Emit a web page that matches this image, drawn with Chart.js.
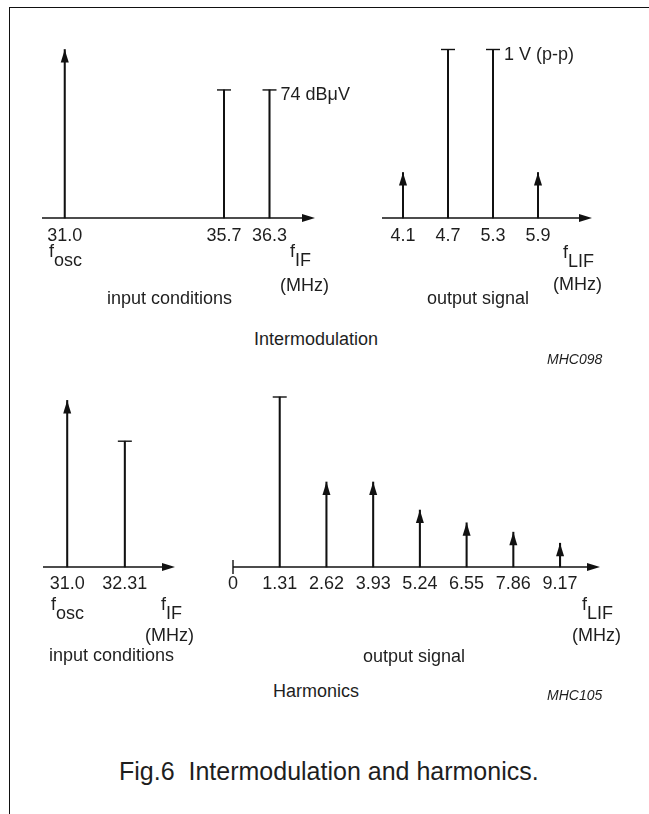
<!DOCTYPE html>
<html>
<head>
<meta charset="utf-8">
<script src="https://cdn.jsdelivr.net/npm/chart.js@4.4.0/dist/chart.umd.min.js"></script>
<style>
  html, body { margin: 0; padding: 0; background: #fff; }
  #page { position: relative; width: 649px; height: 814px; overflow: hidden;
          font-family: "Liberation Sans", Arial, Helvetica, sans-serif; color: #1e1e1e; }
  #frame { position: absolute; left: 9px; top: 7px; width: 700px; height: 900px;
           border-top: 1.5px solid #111; border-left: 1.5px solid #111; }
  canvas { position: absolute; }
  .t { position: absolute; font-size: 18px; line-height: 18px; white-space: pre; }
  .t sub { font-size: 18px; line-height: 0; vertical-align: -9px; }
  .code { font-size: 14px; line-height: 14px; font-style: italic; }
  .fig { font-size: 25px; line-height: 25px; }
</style>
</head>
<body>
<div id="page">
  <div id="frame"></div>
  <canvas id="imIn" width="340" height="230" style="left:20px;top:30px"></canvas>
  <canvas id="imOut" width="280" height="230" style="left:360px;top:30px"></canvas>
  <canvas id="hIn" width="175" height="229" style="left:20px;top:380px"></canvas>
  <canvas id="hOut" width="430" height="229" style="left:210px;top:380px"></canvas>

  <div class="t" data-b="257" style="left:49px">f<sub>osc</sub></div>
  <div class="t" data-b="257" style="left:290px">f<sub>IF</sub></div>
  <div class="t" data-b="291" style="left:280px">(MHz)</div>
  <div class="t" data-b="304" style="left:107px">input conditions</div>
  <div class="t" data-b="258" style="left:563px">f<sub>LIF</sub></div>
  <div class="t" data-b="290" style="left:553px">(MHz)</div>
  <div class="t" data-b="304" style="left:427px">output signal</div>
  <div class="t" data-b="345" style="left:254px">Intermodulation</div>
  <div class="t code" data-b="364" style="left:547px">MHC098</div>

  <div class="t" data-b="610" style="left:51px">f<sub>osc</sub></div>
  <div class="t" data-b="610" style="left:161px">f<sub>IF</sub></div>
  <div class="t" data-b="641" style="left:145px">(MHz)</div>
  <div class="t" data-b="661" style="left:49px">input conditions</div>
  <div class="t" data-b="610" style="left:582px">f<sub>LIF</sub></div>
  <div class="t" data-b="641" style="left:572px">(MHz)</div>
  <div class="t" data-b="662" style="left:363px">output signal</div>
  <div class="t" data-b="697" style="left:273px">Harmonics</div>
  <div class="t code" data-b="700" style="left:547px">MHC105</div>

  <div class="t fig" data-b="780" style="left:119px">Fig.6  Intermodulation and harmonics.</div>
</div>

<script>
// ---- Intermodulation, input conditions (broken axis, blank ticks are the gap)
const imInAxis = ['', '31.0', '', '', '', '', '', '', '35.7', '', '36.3', '', ''];
const imInOsc = ['31.0'];
const imInOscLevel = [1.0];
const imInSig = ['35.7', '36.3'];
const imInSigLevel = [0.76, 0.76];

// ---- Intermodulation, output signal (MHz)
const imOutTicks = ['4.1', '4.7', '5.3', '5.9'];
const imOutFreq = [4.1, 4.7, 5.3, 5.9];
const imOutProd = [4.1, 5.9];
const imOutProdLevel = [0.27, 0.27];
const imOutSig = [4.7, 5.3];
const imOutSigLevel = [1.0, 1.0];

// ---- Harmonics, input conditions (MHz)
const hInTicks = ['31.0', '32.31'];
const hInFreq = [31.0, 32.31];
const hInOsc = [31.0];
const hInOscLevel = [0.98];
const hInSig = [32.31];
const hInSigLevel = [0.74];

// ---- Harmonics, output signal (MHz)
const hOutTicks = ['0', '1.31', '2.62', '3.93', '5.24', '6.55', '7.86', '9.17'];
const hOutFreq = [0, 1.31, 2.62, 3.93, 5.24, 6.55, 7.86, 9.17];
const hOutSig = [1.31];
const hOutSigLevel = [1.0];
const hOutHarm = [2.62, 3.93, 5.24, 6.55, 7.86, 9.17];
const hOutHarmLevel = [0.5, 0.5, 0.335, 0.26, 0.205, 0.14];

const INK = '#111';
const FONT = '"Liberation Sans", Arial, Helvetica, sans-serif';

// place html labels by their baseline
document.querySelectorAll('.t').forEach(el => {
  const fs = parseFloat(getComputedStyle(el).fontSize);
  el.style.top = (parseFloat(el.dataset.b) - 0.8465 * fs) + 'px';
});

const pts = (xs, ys) => xs.map((x, i) => ({ x: x, y: ys[i] }));

// axis arrow, arrow heads, level caps and notes
const spectrumPlugin = {
  id: 'spectrum',
  beforeDatasetsDraw(chart) {
    const { ctx, chartArea: a } = chart;
    const y0 = chart.scales.y.getPixelForValue(0);
    ctx.save();
    ctx.strokeStyle = INK;
    ctx.fillStyle = INK;
    ctx.lineWidth = 1.4;
    ctx.beginPath();
    ctx.moveTo(a.left, y0);
    ctx.lineTo(a.right - 10, y0);
    ctx.stroke();
    ctx.beginPath();
    ctx.moveTo(a.right, y0);
    ctx.lineTo(a.right - 13, y0 - 4);
    ctx.lineTo(a.right - 13, y0 + 4);
    ctx.closePath();
    ctx.fill();
    if (chart.options.plugins.spectrum.startTick) {
      ctx.beginPath();
      ctx.moveTo(a.left, y0 - 7);
      ctx.lineTo(a.left, y0 + 7);
      ctx.stroke();
    }
    ctx.restore();
  },
  afterDatasetsDraw(chart) {
    const { ctx } = chart;
    ctx.save();
    ctx.strokeStyle = INK;
    ctx.fillStyle = INK;
    ctx.lineWidth = 1.4;
    chart.data.datasets.forEach((ds, i) => {
      const els = chart.getDatasetMeta(i).data;
      els.forEach((el, j) => {
        if (ds.head === 'arrow') {
          ctx.beginPath();
          ctx.moveTo(el.x, el.y);
          ctx.lineTo(el.x - 4, el.y + 13);
          ctx.lineTo(el.x + 4, el.y + 13);
          ctx.closePath();
          ctx.fill();
        } else {
          ctx.beginPath();
          ctx.moveTo(el.x - 7, el.y);
          ctx.lineTo(el.x + 7, el.y);
          ctx.stroke();
        }
        if (ds.note && j === els.length - 1) {
          ctx.font = '18px ' + FONT;
          ctx.fillStyle = '#1e1e1e';
          ctx.textBaseline = 'alphabetic';
          ctx.fillText(ds.note, el.x + 11, el.y + 10);
          ctx.fillStyle = INK;
        }
      });
    });
    ctx.restore();
  }
};

function spectrum(id, xScale, datasets, pad, tickPad, startTick) {
  return new Chart(document.getElementById(id), {
    type: 'bar',
    data: {
      labels: xScale.labels,
      datasets: datasets.map(d => Object.assign({
        backgroundColor: INK,
        borderWidth: 0,
        barThickness: 1.4,
        grouped: false,
        clip: false
      }, d))
    },
    options: {
      responsive: false,
      animation: false,
      devicePixelRatio: 1,
      layout: { padding: pad },
      plugins: {
        legend: { display: false },
        tooltip: { enabled: false },
        spectrum: { startTick: !!startTick }
      },
      scales: {
        x: Object.assign({
          offset: false,
          grid: { display: false, drawTicks: false },
          border: { display: false },
          afterFit: s => { s.height = 42; },
          ticks: {
            autoSkip: false,
            maxRotation: 0,
            padding: tickPad,
            color: '#1e1e1e',
            font: { family: FONT, size: 18 }
          }
        }, xScale.opts),
        y: { display: false, min: 0, max: 1.0 }
      }
    },
    plugins: [spectrumPlugin]
  });
}

function fixedTicks(freqs, labels) {
  return {
    afterBuildTicks: s => { s.ticks = freqs.map(v => ({ value: v })); },
    ticks: {
      autoSkip: false, maxRotation: 0, color: '#1e1e1e',
      font: { family: FONT, size: 18 },
      callback: (v, i) => labels[i]
    }
  };
}

function withPad(cfg, p) { cfg.ticks.padding = p; return cfg; }

spectrum('imIn',
  { labels: imInAxis, opts: { type: 'category' } },
  [
    { data: pts(imInOsc, imInOscLevel), head: 'arrow' },
    { data: pts(imInSig, imInSigLevel), head: 'cap', note: '74 dB\u03bcV' }
  ],
  { left: 22, right: 45, top: 19.5, bottom: 0 }, 7);

spectrum('imOut',
  { opts: Object.assign({ type: 'linear', min: 3.82, max: 6.62 }, withPad(fixedTicks(imOutFreq, imOutTicks), 7)) },
  [
    { data: pts(imOutProd, imOutProdLevel), head: 'arrow' },
    { data: pts(imOutSig, imOutSigLevel), head: 'cap', note: '1 V (p-p)' }
  ],
  { left: 22, right: 48, top: 19.5, bottom: 0 }, 7);

spectrum('hIn',
  { opts: Object.assign({ type: 'linear', min: 30.45, max: 33.45 }, withPad(fixedTicks(hInFreq, hInTicks), 6)) },
  [
    { data: pts(hInOsc, hInOscLevel), head: 'arrow' },
    { data: pts(hInSig, hInSigLevel), head: 'cap' }
  ],
  { left: 23, right: 20, top: 17, bottom: 0 }, 6);

spectrum('hOut',
  { opts: Object.assign({ type: 'linear', min: 0, max: 10.29 }, withPad(fixedTicks(hOutFreq, hOutTicks), 6)) },
  [
    { data: pts(hOutSig, hOutSigLevel), head: 'cap' },
    { data: pts(hOutHarm, hOutHarmLevel), head: 'arrow' }
  ],
  { left: 23, right: 40, top: 17, bottom: 0 }, 6, true);
</script>
</body>
</html>
